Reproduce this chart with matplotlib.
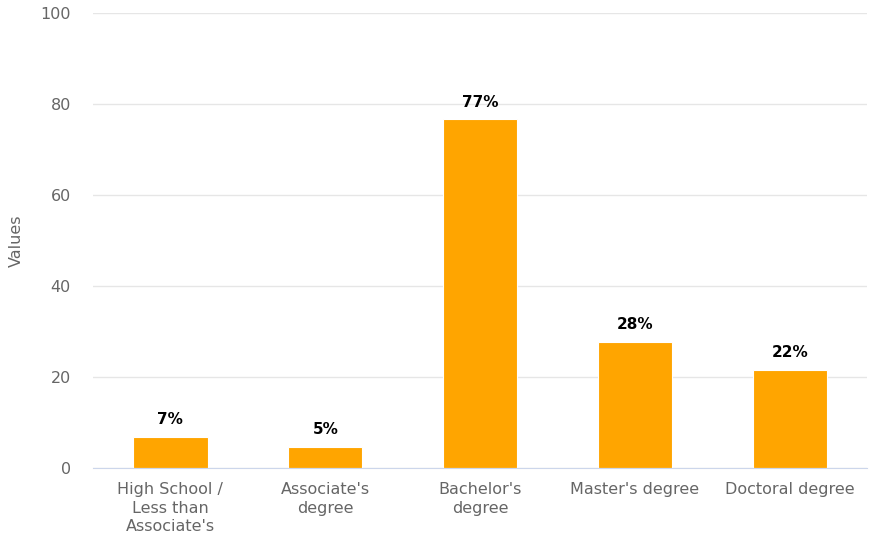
import matplotlib.pyplot as plt

# Chart data
categories = ["High School /\nLess than\nAssociate's", "Associate's\ndegree",
              "Bachelor's\ndegree", "Master's degree", "Doctoral degree"]
values = [6.8, 4.6, 76.6, 27.7, 21.6]
labels = ["7%", "5%", "77%", "28%", "22%"]
yticks = [0, 20, 40, 60, 80, 100]


def main():
    plt.rcParams['font.family'] = ['DejaVu Sans']
    fig = plt.figure(figsize=(8.69, 5.39), dpi=100)
    ax = fig.add_axes([0.107, 0.1317, 0.891, 0.8443])

    x = list(range(len(categories)))
    ax.bar(x, values, width=0.48, color='#FFA500', edgecolor='white',
           linewidth=0.8, zorder=3)

    for xi, v, lab in zip(x, values, labels):
        ax.annotate(lab, (xi, v), xytext=(0, 7), textcoords='offset points',
                    ha='center', va='bottom', fontsize=11, fontweight='bold',
                    color='black', zorder=4)

    ax.set_xlim(-0.5, len(categories) - 0.5)
    ax.set_ylim(0, 100)
    ax.set_yticks(yticks)
    ax.set_xticks(x)
    ax.set_xticklabels(categories, linespacing=1.3)
    ax.grid(axis='y', color='#e6e6e6', linewidth=1, zorder=0)

    for s in ['top', 'right', 'left']:
        ax.spines[s].set_visible(False)
    ax.spines['bottom'].set_color('#ccd6eb')
    ax.spines['bottom'].set_zorder(5)

    ax.tick_params(axis='y', length=0, pad=16, labelsize=11.5, labelcolor='#666666')
    ax.tick_params(axis='x', length=0, pad=10, labelsize=11.5, labelcolor='#666666')
    ax.set_ylabel('Values', fontsize=11.5, color='#666666', labelpad=12)

    fig.savefig('out.png', dpi=100)


if __name__ == '__main__':
    main()
